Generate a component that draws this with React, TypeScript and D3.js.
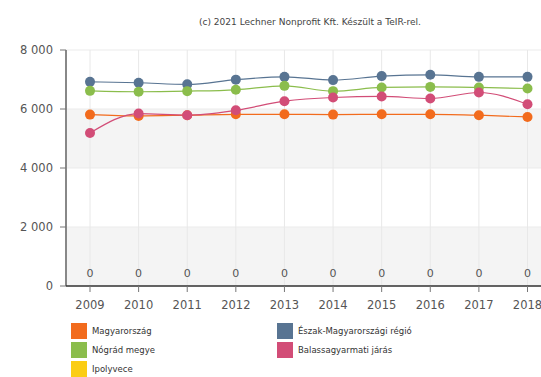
import React from "react";
import * as d3 from "d3";

const years = ["2009", "2010", "2011", "2012", "2013", "2014", "2015", "2016", "2017", "2018"];
const magyarorszag = [5810, 5765, 5790, 5820, 5820, 5810, 5820, 5820, 5790, 5730];
const eszak = [6920, 6890, 6835, 6995, 7090, 6980, 7115, 7160, 7090, 7090];
const nograd = [6615, 6585, 6605, 6650, 6785, 6605, 6730, 6750, 6730, 6695];
const balassagyarmat = [5185, 5845, 5790, 5955, 6265, 6390, 6425, 6355, 6560, 6160];
const ipolyvece = [0, 0, 0, 0, 0, 0, 0, 0, 0, 0];
const yTicks = [0, 2000, 4000, 6000, 8000];

const seriesNames = ["Magyarország", "Észak-Magyarországi régió", "Nógrád megye", "Balassagyarmati járás", "Ipolyvece"];
const seriesColors = ["#f26b1d", "#587492", "#8bbd4c", "#d24d77", "#fbcd14"];
const seriesData = [magyarorszag, eszak, nograd, balassagyarmat, ipolyvece];

const W = 541;
const H = 377;
const fmt = (v: number) => d3.format(",")(v).replace(/,/g, " ");

export default function App() {
  const x = d3.scalePoint<string>().domain(years).range([90, 527.5]);
  const y = d3.scaleLinear().domain([0, 8000]).range([286, 50]);
  const left = 66;
  const right = W;
  const line = d3
    .line<number>()
    .x((_, i) => x(years[i]) as number)
    .y((d) => y(d))
    .curve(d3.curveMonotoneX);

  const font = "'DejaVu Sans', Verdana, sans-serif";
  const legendPos = [
    [71, 323],
    [277, 323],
    [71, 342],
    [277, 342],
    [71, 361],
  ];

  return (
    <svg width={W} height={H} style={{ position: "absolute", left: 0, top: 0, background: "#fff" }} fontFamily={font}>
      <text x={310} y={25} textAnchor="middle" fontSize={8} fill="#444" textLength={222} lengthAdjust="spacingAndGlyphs">
        (c) 2021 Lechner Nonprofit Kft. Készült a TeIR-rel.
      </text>
      {[0, 4000].map((v) => (
        <rect key={v} x={left} y={y(v + 2000)} width={right - left} height={y(v) - y(v + 2000)} fill="#f4f4f4" />
      ))}
      {yTicks.map((t) => (
        <line key={t} x1={left} x2={right} y1={y(t)} y2={y(t)} stroke="#ebebeb" />
      ))}
      {years.map((yr) => (
        <line key={yr} x1={x(yr)} x2={x(yr)} y1={y(8000)} y2={y(0)} stroke="#e8e8e8" />
      ))}
      <line x1={left} x2={left} y1={y(8000)} y2={y(0)} stroke="#888" strokeWidth={2} />
      {yTicks.map((t) => (
        <g key={t}>
          <line x1={left - 6} x2={left} y1={y(t)} y2={y(t)} stroke="#777" />
          <text x={53} y={y(t)} dy="0.35em" textAnchor="end" fontSize={11.5} fill="#555">
            {fmt(t)}
          </text>
        </g>
      ))}
      {seriesData.map((data, si) =>
        si === 4 ? null : (
          <g key={si}>
            <path d={line(data) || ""} fill="none" stroke={seriesColors[si]} strokeWidth={1.2} />
            {data.map((v, i) => (
              <circle key={i} cx={x(years[i])} cy={y(v)} r={5} fill={seriesColors[si]} />
            ))}
          </g>
        )
      )}
      {ipolyvece.map((v, i) => (
        <text key={i} x={x(years[i])} y={273} dy="0.35em" textAnchor="middle" fontSize={11} fill="#555">
          {v}
        </text>
      ))}
      <line x1={left} x2={right} y1={y(0)} y2={y(0)} stroke="#333" strokeWidth={1.5} />
      {years.map((yr) => (
        <g key={yr}>
          <line x1={x(yr)} x2={x(yr)} y1={y(0)} y2={y(0) + 6} stroke="#777" />
          <text x={x(yr)} y={305} dy="0.35em" textAnchor="middle" fontSize={11.5} fill="#555">
            {yr}
          </text>
        </g>
      ))}
      {seriesNames.map((n, i) => (
        <g key={n}>
          <rect x={legendPos[i][0]} y={legendPos[i][1]} width={16} height={16} fill={seriesColors[i]} />
          <text x={legendPos[i][0] + 21} y={legendPos[i][1] + 8} dy="0.35em" fontSize={8.5} fill="#333">
            {n}
          </text>
        </g>
      ))}
    </svg>
  );
}
